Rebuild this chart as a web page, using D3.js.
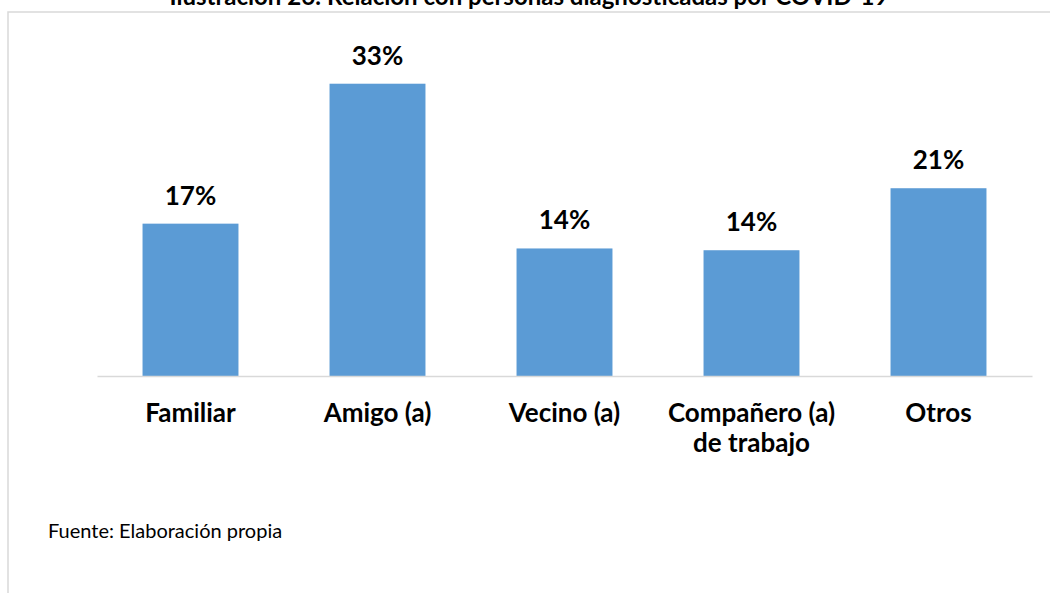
<!DOCTYPE html>
<html>
<head>
<meta charset="utf-8">
<script src="https://cdn.jsdelivr.net/npm/d3@7"></script>
<style>
  body { margin: 0; background: #fff; }
  svg, svg text { font-family: Lato, "Open Sans", sans-serif; }
  .axis text { font-weight: bold; font-size: 26px; fill: #000; }
  .axis path { stroke: #d9d9d9; stroke-width: 1.5px; }
  .label { font-weight: bold; font-size: 26px; fill: #000; text-anchor: middle; }
</style>
</head>
<body>
<div id="chart"></div>
<script>
var categories = ["Familiar", "Amigo (a)", "Vecino (a)", "Compañero (a)|de trabajo", "Otros"];
var values = [17.2, 33.0, 14.4, 14.2, 21.2];
var yMax = 35;

var width = 1050, height = 593;

var svg = d3.select("#chart")
  .append("svg")
  .attr("width", width)
  .attr("height", height);

// frame of the figure (only top and left edges are visible)
svg.append("path")
  .attr("d", "M8,593V12H1050")
  .attr("fill", "none")
  .attr("stroke", "#d9d9d9")
  .attr("stroke-width", 1.5);

// title, cut off at the top like the original
svg.append("text")
  .attr("x", 529)
  .attr("y", 5)
  .attr("text-anchor", "middle")
  .style("font-weight", "bold")
  .style("font-size", "24px")
  .text("Ilustración 26: Relación con personas diagnosticadas por COVID-19");

var x = d3.scaleBand()
  .domain(categories)
  .range([97, 1032])
  .paddingInner(0.487)
  .paddingOuter(0.2435);

var y = d3.scaleLinear()
  .domain([0, yMax])
  .range([376, 66]);

svg.selectAll(".bar")
  .data(values)
  .enter()
  .append("rect")
  .attr("class", "bar")
  .attr("x", (d, i) => x(categories[i]))
  .attr("width", x.bandwidth())
  .attr("y", d => y(d))
  .attr("height", d => y(0) - y(d))
  .attr("fill", "#5b9bd5");

svg.selectAll(".label")
  .data(values)
  .enter()
  .append("text")
  .attr("class", "label")
  .attr("x", (d, i) => x(categories[i]) + x.bandwidth() / 2)
  .attr("y", d => y(d) - 19)
  .text(d => Math.round(d) + "%");

var xAxis = svg.append("g")
  .attr("class", "axis")
  .attr("transform", "translate(0," + y(0) + ")")
  .call(d3.axisBottom(x).tickSize(0).tickSizeOuter(0));

xAxis.attr("font-family", null).attr("font-size", null);

xAxis.selectAll(".tick text").each(function(d) {
  var t = d3.select(this);
  var lines = d.split("|");
  t.text(null).attr("y", 0).attr("dy", null);
  lines.forEach(function(line, i) {
    t.append("tspan")
      .attr("x", 0)
      .attr("y", 46 + i * 30)
      .text(line);
  });
});

svg.append("text")
  .attr("x", 48)
  .attr("y", 538)
  .style("font-size", "20px")
  .text("Fuente: Elaboración propia");
</script>
</body>
</html>
